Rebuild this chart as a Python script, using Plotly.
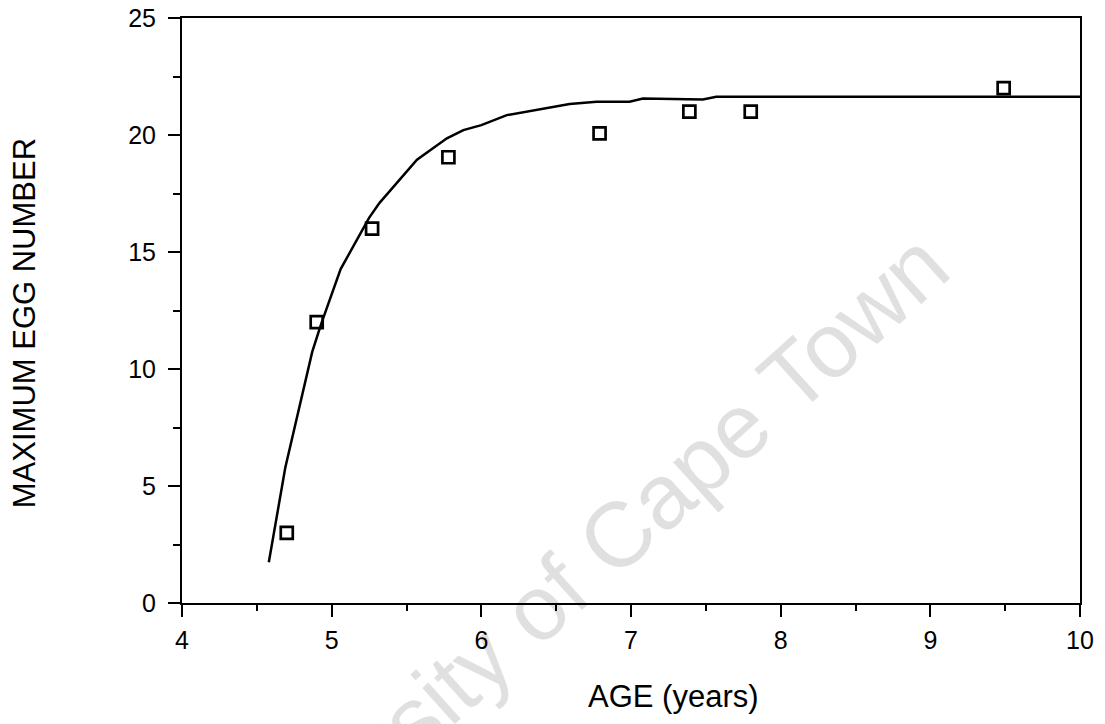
import plotly.graph_objects as go

# fitted curve
curve_age = [4.58, 4.69, 4.87, 4.93, 5.06, 5.25, 5.32, 5.57, 5.77, 5.88, 6.0,
             6.17, 6.59, 6.77, 6.99, 7.08, 7.48, 7.57, 10.0]
curve_eggs = [1.74, 5.78, 10.73, 11.93, 14.27, 16.46, 17.1, 18.94, 19.86, 20.21, 20.42,
              20.85, 21.32, 21.42, 21.42, 21.56, 21.52, 21.63, 21.63]

# observed points
obs_age = [4.7, 4.9, 5.27, 5.78, 6.79, 7.39, 7.8, 9.49]
obs_eggs = [3.0, 12.0, 16.0, 19.05, 20.07, 21.0, 21.0, 22.0]

FONT = "Liberation Sans, Arial, sans-serif"

fig = go.Figure()

fig.add_trace(go.Scatter(
    x=curve_age, y=curve_eggs,
    mode="lines",
    line=dict(color="black", width=2.5),
    showlegend=False
))

fig.add_trace(go.Scatter(
    x=obs_age, y=obs_eggs,
    mode="markers",
    marker=dict(symbol="square-open", size=12, color="black", line=dict(width=2.7)),
    showlegend=False
))

# scan watermark
fig.add_annotation(
    text="University of Cape Town",
    xref="paper", yref="paper", x=0.4265, y=0.036,
    xanchor="center", yanchor="middle",
    textangle=-42,
    showarrow=False,
    font=dict(family=FONT, size=92, color="rgba(0,0,0,0.12)")
)

# axis titles placed by hand (they sit off-centre in the original)
fig.add_annotation(
    text="AGE (years)",
    xref="paper", yref="paper", x=0.5468, y=-0.16,
    xanchor="center", yanchor="middle", showarrow=False,
    font=dict(family=FONT, size=31)
)
fig.add_annotation(
    text="MAXIMUM EGG NUMBER",
    xref="paper", yref="paper", x=-0.175, y=0.478,
    xanchor="center", yanchor="middle", showarrow=False,
    textangle=-90,
    font=dict(family=FONT, size=31)
)

# page body has an 8px margin, so the figure is shrunk by that much
fig.update_layout(
    width=1097, height=716,
    margin=dict(l=174, r=25, t=10, b=121, autoexpand=False),
    paper_bgcolor="white",
    plot_bgcolor="white",
    font=dict(family=FONT, color="black")
)

fig.update_xaxes(
    range=[4, 10], dtick=1, tick0=4,
    showline=True, linecolor="black", linewidth=2, mirror=True,
    ticks="outside", ticklen=12, tickwidth=2, tickcolor="black",
    minor=dict(dtick=0.5, ticks="outside", ticklen=6, tickwidth=2, tickcolor="black"),
    showgrid=False, zeroline=False, automargin=False,
    tickfont=dict(size=25), ticklabelstandoff=2
)

fig.update_yaxes(
    range=[0, 25], dtick=5, tick0=0,
    showline=True, linecolor="black", linewidth=2, mirror=True,
    ticks="outside", ticklen=12, tickwidth=2, tickcolor="black",
    minor=dict(dtick=2.5, ticks="outside", ticklen=7, tickwidth=2, tickcolor="black"),
    showgrid=False, zeroline=False, automargin=False,
    tickfont=dict(size=25), ticklabelstandoff=7,
    ticklabeloverflow="allow"
)

fig.write_html("out.html")
